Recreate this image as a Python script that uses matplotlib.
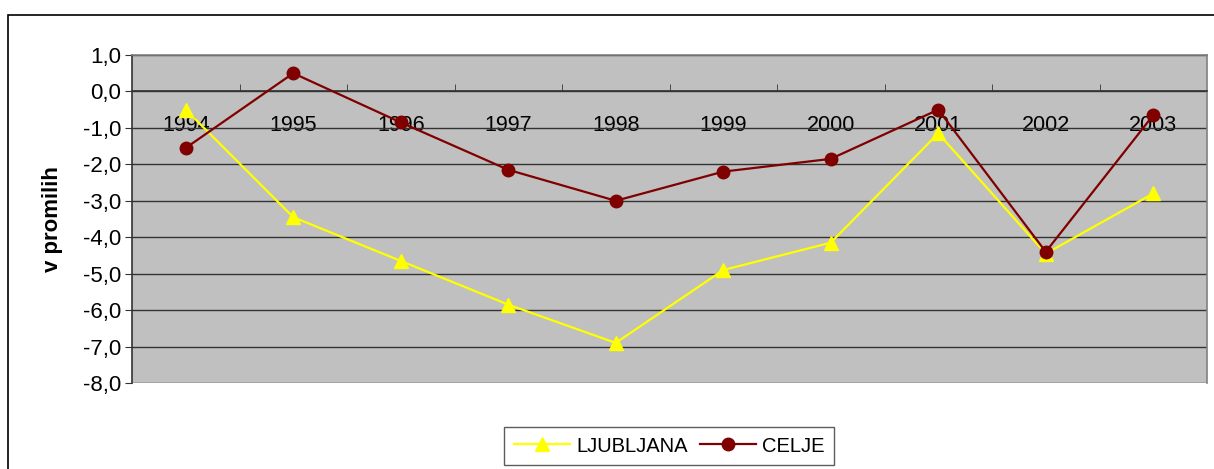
import matplotlib
matplotlib.use("Agg")
import matplotlib.pyplot as plt
from matplotlib.patches import Rectangle

years = ["1994", "1995", "1996", "1997", "1998", "1999", "2000", "2001", "2002", "2003"]
ljubljana = [-0.5, -3.45, -4.65, -5.85, -6.9, -4.9, -4.15, -1.15, -4.45, -2.8]
celje = [-1.55, 0.5, -0.85, -2.15, -3.0, -2.2, -1.85, -0.5, -4.4, -0.65]
yticks = [1, 0, -1, -2, -3, -4, -5, -6, -7, -8]
ytick_labels = ["1,0", "0,0", "-1,0", "-2,0", "-3,0", "-4,0", "-5,0", "-6,0", "-7,0", "-8,0"]

plt.rcParams['font.family'] = ['Liberation Sans', 'DejaVu Sans']

W, H = 1214, 469
fig = plt.figure(figsize=(W / 100, H / 100), dpi=100)
fig.patch.set_facecolor('white')

# outer chart frame
fig.add_artist(Rectangle((8 / W, -0.05), 1.1, 1 - 15 / H + 0.05, transform=fig.transFigure,
                         fill=False, edgecolor='black', linewidth=1.2))

ax = fig.add_axes([132 / W, 1 - 383 / H, (1207 - 132) / W, (383 - 55) / H])
ax.set_facecolor('#C0C0C0')
x = list(range(len(years)))

ax.set_ylim(-8, 1)
ax.set_xlim(-0.5, len(years) - 0.5)
ax.set_yticks(yticks)
ax.set_yticklabels(ytick_labels, fontsize=16)
ax.yaxis.grid(True, color='#333333', linewidth=1.0)
ax.set_axisbelow(True)

for s in ['top', 'right']:
    ax.spines[s].set_color('#808080')
    ax.spines[s].set_linewidth(1.2)
ax.spines['left'].set_color('#333333')
ax.spines['left'].set_linewidth(1.2)
ax.spines['bottom'].set_position(('data', 0))
ax.spines['bottom'].set_color('#333333')
ax.spines['bottom'].set_linewidth(1.2)
ax.tick_params(axis='y', length=5, color='#333333', pad=3)

ax.set_xticks(x)
ax.set_xticklabels(years, fontsize=15.5)
ax.tick_params(axis='x', which='major', length=0, pad=17)
ax.set_xticks([i + 0.5 for i in x[:-1]], minor=True)
ax.tick_params(axis='x', which='minor', length=5, direction='in', color='#333333')

ax.plot(x, ljubljana, color='#FFFF00', linewidth=1.6, marker='^', markersize=10,
        label='LJUBLJANA', zorder=3, clip_on=False)
ax.plot(x, celje, color='#800000', linewidth=1.6, marker='o', markersize=9,
        label='CELJE', zorder=4, clip_on=False)

ax.set_ylabel('v promilih', fontsize=16, fontweight='bold')
ax.yaxis.set_label_coords(-(132 - 63) / (1207 - 132), 0.5)

leg = fig.legend(loc='center', bbox_to_anchor=((506 + 832) / 2 / W, 1 - 446 / H),
                 ncol=2, fontsize=14.5, frameon=True, fancybox=False,
                 edgecolor='#333333', handlelength=2.8, columnspacing=0.6,
                 handletextpad=0.3, borderpad=0.45)
leg.get_frame().set_linewidth(1.0)

fig.savefig('out.png', dpi=100)
